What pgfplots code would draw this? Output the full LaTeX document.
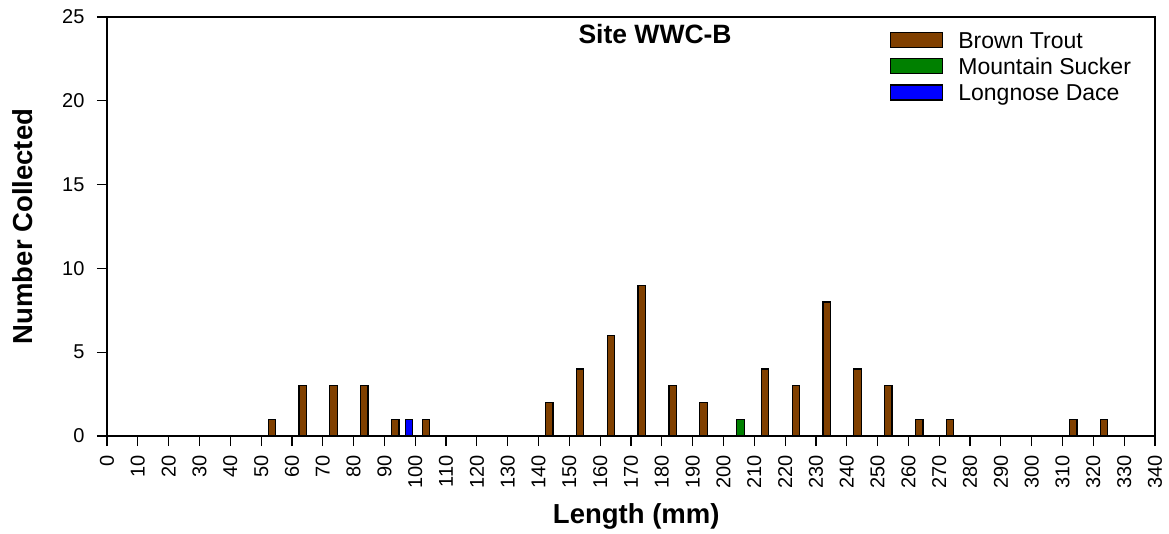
\documentclass[border=0pt]{standalone}
\usepackage{pgfplots}
\pgfplotsset{compat=1.18}
\usepackage{fontspec}
\setmainfont{Liberation Sans}
\definecolor{trout}{RGB}{128,64,0}
\definecolor{sucker}{RGB}{0,128,0}
\definecolor{dace}{RGB}{0,0,255}
\begin{document}
\begin{tikzpicture}
\begin{axis}[
  scale only axis,
  width=1048bp, height=419bp,
  xmin=0, xmax=340, ymin=0, ymax=25,
  xtick={0,10,...,340},
  ytick={0,5,...,25},
  xtick pos=bottom, ytick pos=left,
  tick align=outside,
  major tick length=10bp,
  axis line style={line width=1.2bp},
  every tick/.style={line width=1.2bp, black},
  /pgf/number format/assume math mode=true,
  ticklabel style={font=\fontsize{20bp}{23bp}\selectfont},
  xticklabel style={yshift=-6bp, rotate=90, anchor=east},
  yticklabel style={xshift=-9bp},
  every axis x label/.style={at={(axis description cs:0.505,-0.191)}, anchor=center},
  every axis y label/.style={at={(axis description cs:-0.0802,0.5)}, anchor=center, rotate=90},
  xlabel={Length (mm)},
  ylabel={Number Collected},
  label style={font=\fontsize{27.5bp}{31bp}\selectfont\bfseries},
  title={Site WWC-B},
  title style={at={(axis description cs:0.523,0.923)}, anchor=base, font=\fontsize{26.5bp}{30bp}\selectfont\bfseries},
  legend style={at={(axis description cs:0.7471,0.9642)}, anchor=north west, draw=none, fill=none,
    inner sep=0pt, row sep=5.5bp, column sep=0bp,
    nodes={inner sep=0pt, text height=15bp, text depth=4bp},
    font=\fontsize{23bp}{26bp}\selectfont},
  legend cell align=left,
  legend image code/.code={\draw[#1, draw=black, line width=1.2bp] (0bp,-4.5bp) rectangle (52bp,10.5bp);},
  /tikz/every odd column/.append style={column sep=15bp},
]
\coordinate (ll) at (rel axis cs:0,0);
\coordinate (ur) at (rel axis cs:1,1);
\addplot[ybar, bar width=2.4, bar shift=0pt, fill=trout, draw=black, line width=1.2bp] coordinates {
 (53.5,1) (63.5,3) (73.5,3) (83.5,3) (93.5,1) (103.5,1)
 (143.5,2) (153.5,4) (163.5,6) (173.5,9) (183.5,3) (193.5,2)
 (213.5,4) (223.5,3) (233.5,8) (243.5,4) (253.5,3) (263.5,1) (273.5,1)
 (313.5,1) (323.5,1)
};
\addlegendentry{Brown Trout}
\addplot[ybar, bar width=2.4, bar shift=0pt, fill=sucker, draw=black, line width=1.2bp] coordinates {
 (205.5,1)
};
\addlegendentry{Mountain Sucker}
\addplot[ybar, bar width=2.4, bar shift=0pt, fill=dace, draw=black, line width=1.2bp] coordinates {
 (98,1)
};
\addlegendentry{Longnose Dace}
\end{axis}
\pgfresetboundingbox
\path[use as bounding box] ([shift={(-107bp,-97bp)}]ll) rectangle ([shift={(14bp,17bp)}]ur);
\end{tikzpicture}
\end{document}
